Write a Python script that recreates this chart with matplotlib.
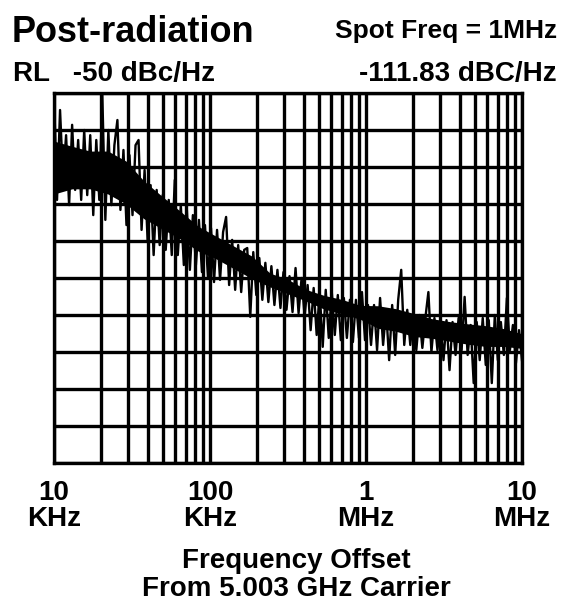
import numpy as np
import matplotlib
matplotlib.use("Agg")
import matplotlib.pyplot as plt
from matplotlib.ticker import LogLocator, NullFormatter

plt.rcParams['font.family'] = ['Liberation Sans', 'DejaVu Sans']

# offset frequency sweep (Hz), 10 kHz .. 10 MHz
freq = np.logspace(4, 7, 156)

# phase noise trace (dBc/Hz)
noise = [
    -50.5, -78.9, -54.6, -73.5, -61.4, -80.3, -58.6, -76.2, -62.7, -78.9,
    -60.0, -77.6, -61.4, -83.0, -62.7, -78.9, -50.5, -84.3, -60.0, -80.3,
    -64.1, -57.3, -81.6, -65.4, -85.7, -66.8, -83.0, -64.1, -62.7, -87.0,
    -70.8, -89.7, -74.9, -93.8, -76.2, -91.1, -77.6, -92.4, -78.9, -93.8,
    -73.5, -93.8, -80.3, -96.5, -81.6, -97.8, -83.0, -96.5, -84.3, -98.4,
    -85.7, -100.0, -86.5, -101.1, -87.0, -100.5, -87.6, -83.5, -101.9, -89.7,
    -103.2, -91.1, -103.8, -92.4, -91.9, -110.5, -93.0, -104.6, -94.6, -105.9,
    -95.9, -106.5, -96.8, -107.3, -97.8, -108.1, -98.4, -108.6, -99.5, -109.2,
    -97.3, -109.5, -100.0, -110.3, -101.9, -114.1, -102.7, -115.4, -103.8, -118.6,
    -103.2, -116.2, -103.8, -115.4, -104.6, -116.8, -105.4, -116.2, -105.9, -117.3,
    -105.9, -116.2, -103.8, -116.8, -107.3, -118.1, -107.3, -119.5, -105.4, -118.1,
    -108.6, -122.2, -107.3, -120.8, -105.9, -97.8, -118.1, -108.6, -118.1, -110.0,
    -119.5, -110.0, -118.9, -110.8, -103.8, -120.0, -110.8, -119.5, -111.4, -122.2,
    -111.4, -124.9, -111.9, -120.8, -110.8, -119.5, -105.1, -120.8, -112.7, -128.4,
    -111.9, -122.2, -110.8, -123.5, -111.4, -128.4, -110.0, -122.2, -111.9, -120.8,
    -105.4, -119.5, -112.7, -123.0, -114.1, -122.2,
]

# dense core of the trace (where the sweep is solid black)
band_freq = np.logspace(4, 7, 27)
band_hi = [-63.0, -64.4, -65.7, -65.7, -68.4, -73.8, -77.9, -81.9, -86.0,
           -88.7, -91.4, -94.1, -98.7, -100.4, -103.1, -104.7, -105.8, -107.4,
           -107.5, -108.3, -109.6, -111.0, -111.8, -112.4, -112.9, -113.7, -115.1]
band_lo = [-77.3, -75.9, -75.9, -77.3, -80.0, -84.0, -86.7, -89.4, -92.7,
           -94.8, -97.5, -100.2, -102.4, -104.3, -106.2, -108.4, -109.7, -111.1,
           -113.6, -114.4, -115.8, -116.3, -117.1, -117.9, -118.5, -118.5, -119.0]

tick_freqs = [1e4, 1e5, 1e6, 1e7]
tick_labels = ['10\nKHz', '100\nKHz', '1\nMHz', '10\nMHz']

ref_level = -50
db_per_div = 10

fig = plt.figure(figsize=(5.62, 6.13), dpi=100)
ax = fig.add_axes([0.0961, 0.2447, 0.8327, 0.6036])

ax.fill_between(band_freq, band_lo, band_hi, color='black', lw=0, zorder=2)
ax.plot(freq, noise, color='black', lw=1.7, zorder=3)

ax.set_xscale('log')
ax.set_xlim(1e4, 1e7)
ax.set_ylim(ref_level - 10 * db_per_div, ref_level)
ax.set_yticks(np.arange(ref_level - 10 * db_per_div, ref_level + 1, db_per_div))
ax.set_yticklabels([])

ax.xaxis.set_minor_locator(LogLocator(base=10, subs=np.arange(2, 10)))
ax.xaxis.set_minor_formatter(NullFormatter())
ax.set_xticks(tick_freqs)
ax.set_xticklabels(tick_labels, fontsize=20, fontweight='bold', linespacing=1.0)

ax.grid(which='both', axis='both', color='black', lw=2.4, zorder=1)
ax.tick_params(which='both', length=0, pad=12)
for s in ax.spines.values():
    s.set_linewidth(2.4)

fig.text(12 / 562, 1 - 42 / 613, 'Post-radiation', fontsize=26, fontweight='bold',
         ha='left', va='baseline')
fig.text(557 / 562, 1 - 38 / 613, 'Spot Freq = 1MHz', fontsize=19, fontweight='bold',
         ha='right', va='baseline')
fig.text(13 / 562, 1 - 81 / 613, 'RL   -50 dBc/Hz', fontsize=20, fontweight='bold',
         ha='left', va='baseline')
fig.text(557 / 562, 1 - 81 / 613, '-111.83 dBC/Hz', fontsize=20, fontweight='bold',
         ha='right', va='baseline')

fig.text(296 / 562, 1 - 548 / 613, 'Frequency Offset\nFrom 5.003 GHz Carrier',
         fontsize=20, fontweight='bold', ha='center', va='top', linespacing=1.1)

fig.savefig('out.png', dpi=100)
